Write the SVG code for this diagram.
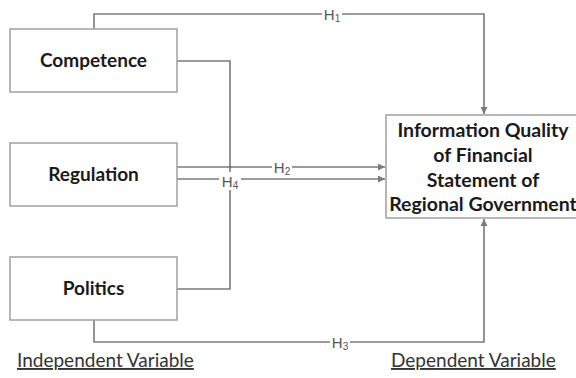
<svg xmlns="http://www.w3.org/2000/svg" width="576" height="378" viewBox="0 0 576 378">
<style>
.box{fill:#fff;stroke:#a0a0a0;stroke-width:1.5}
.lbl{font-family:Lato,"Liberation Sans",sans-serif;font-weight:bold;font-size:19px;fill:#1a1a1a;text-anchor:middle}
.dl{font-size:19.5px}
.ln{fill:none;stroke:#7a7a7a;stroke-width:1.6}
.h{font-family:"Liberation Sans",Arial,sans-serif;font-size:15px;fill:#555;text-anchor:middle}
.foot{font-family:Lato,"Liberation Sans",sans-serif;font-size:19px;fill:#333;text-decoration:underline}
</style>
<defs>
<marker id="ah" viewBox="0 0 10 10" refX="10" refY="5" markerWidth="7" markerHeight="7" markerUnits="userSpaceOnUse" orient="auto">
<path d="M0,0 L10,5 L0,10 z" fill="#7a7a7a"/>
</marker>
</defs>
<g id="connectors">
<path class="ln" d="M94,29 V14 H484 V114" marker-end="url(#ah)"/>
<path class="ln" d="M177,61 H230 V289 H177"/>
<path class="ln" d="M177,167 H385" marker-end="url(#ah)"/>
<path class="ln" d="M177,179 H385" marker-end="url(#ah)"/>
<path class="ln" d="M94,320 V342 H484 V219" marker-end="url(#ah)"/>
<circle cx="230" cy="167" r="1.6" fill="#7a7a7a"/>
<rect x="322" y="6" width="20" height="16" fill="#fff"/>
<text class="h" x="332" y="20">H<tspan font-size="10" dy="2">1</tspan></text>
<rect x="272" y="159" width="20" height="16" fill="#fff"/>
<text class="h" x="282" y="173">H<tspan font-size="10" dy="2">2</tspan></text>
<rect x="219" y="172" width="22" height="18" fill="#fff"/>
<text class="h" x="230" y="187">H<tspan font-size="10" dy="2">4</tspan></text>
<rect x="330" y="334" width="20" height="16" fill="#fff"/>
<text class="h" x="340" y="348">H<tspan font-size="10" dy="2">3</tspan></text>
</g>
<g id="competence">
<rect class="box" x="10" y="29" width="167" height="63"/>
<text class="lbl" x="93.5" y="67">Competence</text>
</g>
<g id="regulation">
<rect class="box" x="10" y="143" width="167" height="63"/>
<text class="lbl" x="93.5" y="181">Regulation</text>
</g>
<g id="politics">
<rect class="box" x="10" y="257" width="167" height="63"/>
<text class="lbl" x="93.5" y="295">Politics</text>
</g>
<g id="dependent">
<rect class="box" x="386" y="115" width="196" height="103"/>
<text class="lbl dl" x="483" y="137">Information Quality</text>
<text class="lbl dl" x="483" y="162">of Financial</text>
<text class="lbl dl" x="483" y="187">Statement of</text>
<text class="lbl dl" x="483" y="211">Regional Government</text>
</g>
<g id="labels">
<text class="foot" x="17" y="367">Independent Variable</text>
<text class="foot" x="391" y="367">Dependent Variable</text>
</g>
</svg>
